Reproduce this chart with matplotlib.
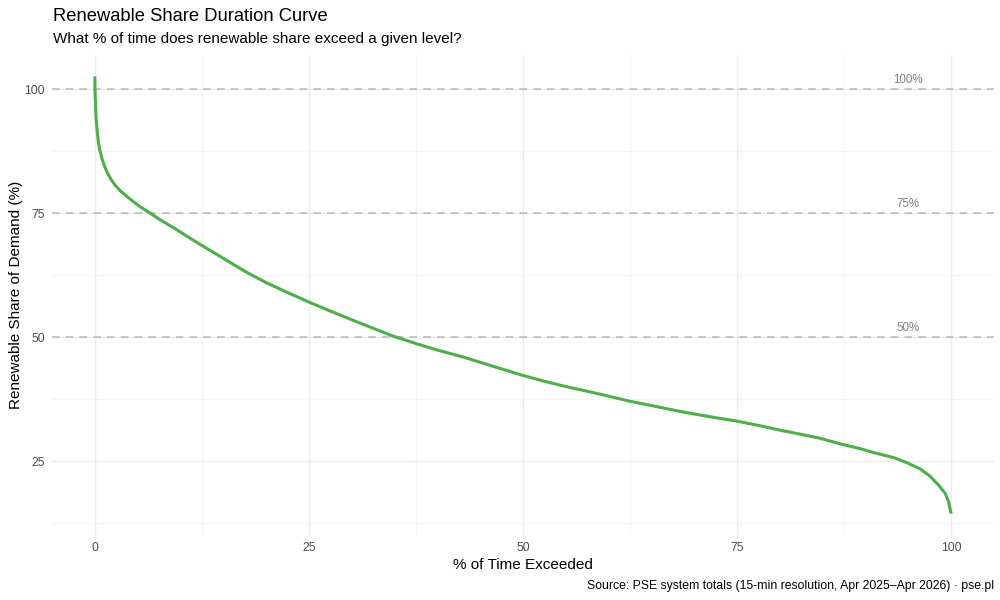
import matplotlib
matplotlib.use("Agg")
import matplotlib.pyplot as plt
from matplotlib.ticker import MultipleLocator

pct_time = [0, 0.02, 0.08, 0.15, 0.27, 0.4, 0.58, 0.85, 1.17, 1.5, 1.95, 2.4,
            2.92, 3.6, 4.29, 5.2, 6.2, 7.6, 9.35, 10.8, 12.4, 15.0, 17.7, 20.0,
            22.5, 24.96, 28.0, 31.3, 34.85, 37.5, 40.0, 43.0, 47.3, 49.96,
            52.5, 55.1, 58.5, 62.4, 65.0, 68.7, 72.0, 74.85, 77.5, 80.4, 82.5,
            84.7, 87.0, 89.4, 90.9, 93.3, 94.8, 96.4, 97.5, 98.5, 99.3, 99.7,
            99.85, 100.0]
share = [102.6, 100.0, 97.1, 94.0, 91.7, 89.5, 87.7, 85.9, 84.3, 83.0, 81.65, 80.6,
         79.6, 78.6, 77.6, 76.4, 75.3, 73.7, 71.9, 70.3, 68.6, 65.9, 63.1, 61.0,
         59.0, 57.1, 54.9, 52.6, 50.2, 48.7, 47.4, 46.0, 43.7, 42.3,
         41.1, 40.0, 38.7, 37.1, 36.2, 34.9, 33.9, 33.1, 32.2, 31.1, 30.4,
         29.6, 28.5, 27.5, 26.75, 25.7, 24.7, 23.4, 22.0, 20.2, 18.5, 16.8,
         15.5, 14.4]
ref_levels = [100, 75, 50]
ref_labels = ["100%", "75%", "50%"]
x_ticks = [0, 25, 50, 75, 100]
y_ticks = [25, 50, 75, 100]

plt.rcParams['font.family'] = ['Liberation Sans', 'DejaVu Sans']

fig = plt.figure(figsize=(10, 6), dpi=100)
ax = fig.add_axes([52/1000, 1-535/600, 942/1000, 480/600])

for s in ax.spines.values():
    s.set_visible(False)

ax.set_xlim(-5, 105)
ax.set_ylim(10.1, 106.9)
ax.xaxis.set_minor_locator(MultipleLocator(12.5))
ax.yaxis.set_minor_locator(MultipleLocator(12.5))
ax.set_xticks(x_ticks)
ax.set_yticks(y_ticks)
ax.grid(which='major', color='#EBEBEB', linewidth=1.0)
ax.grid(which='minor', color='#F5F5F5', linewidth=0.8)
ax.set_axisbelow(True)
ax.tick_params(which='both', length=0)
ax.tick_params(axis='both', labelsize=8.8, labelcolor='#4D4D4D')
ax.tick_params(axis='y', pad=5)
ax.tick_params(axis='x', pad=5)

for lvl, lab in zip(ref_levels, ref_labels):
    ax.axhline(lvl, color='#B8B8B8', linewidth=1.1, dashes=(5, 4), zorder=1)
    ax.text(95, lvl + 1.3, lab, ha='center', va='baseline', fontsize=8.3, color='#7F7F7F')

ax.plot(pct_time, share, color='#4DAF4A', linewidth=2.2, solid_joinstyle='round',
        solid_capstyle='butt', zorder=3)

ax.set_xlabel('% of Time Exceeded', fontsize=11, color='black', labelpad=3)
ax.set_ylabel('Renewable Share of Demand (%)', fontsize=11, color='black', labelpad=1)

fig.text(53/1000, 1-21/600, 'Renewable Share Duration Curve', fontsize=13.2,
         ha='left', va='baseline')
fig.text(53/1000, 1-43/600, 'What % of time does renewable share exceed a given level?',
         fontsize=11, ha='left', va='baseline')
fig.text(994/1000, 1-589/600,
         'Source: PSE system totals (15-min resolution, Apr 2025\u2013Apr 2026) \u00b7 pse.pl',
         fontsize=8.8, ha='right', va='baseline')

fig.savefig('out.png', dpi=100, facecolor='white')
